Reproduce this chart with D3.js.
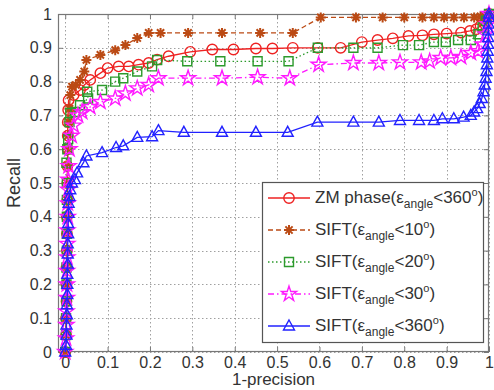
<!DOCTYPE html>
<html>
<head>
<meta charset="utf-8">
<script src="https://d3js.org/d3.v7.min.js"></script>
<style>
  body { margin: 0; background: #fff; }
  svg text { font-family: "Liberation Sans", Arial, sans-serif; fill: #333; }
</style>
</head>
<body>
<div id="chart"></div>
<script>
// recall vs 1-precision
const xTicks = [0, 0.1, 0.2, 0.3, 0.4, 0.5, 0.6, 0.7, 0.8, 0.9, 1];
const yTicks = [0, 0.1, 0.2, 0.3, 0.4, 0.5, 0.6, 0.7, 0.8, 0.9, 1];

const zmPhase = [
  [0, 0], [0.002, 0.05], [0.002, 0.1], [0.003, 0.15], [0.003, 0.2], [0.003, 0.25], [0.004, 0.3],
  [0.004, 0.35], [0.004, 0.4], [0.005, 0.45], [0.005, 0.5], [0.005, 0.55], [0.006, 0.6],
  [0.006, 0.64], [0.006, 0.68], [0.007, 0.716], [0.008, 0.745], [0.02, 0.76], [0.035, 0.775],
  [0.045, 0.79], [0.059, 0.805], [0.083, 0.825], [0.1, 0.84], [0.126, 0.845], [0.15, 0.845],
  [0.173, 0.85], [0.197, 0.855], [0.217, 0.865], [0.244, 0.875], [0.295, 0.888], [0.347, 0.895],
  [0.397, 0.895], [0.45, 0.898], [0.489, 0.898], [0.537, 0.9], [0.596, 0.9], [0.65, 0.9],
  [0.70, 0.917], [0.737, 0.923], [0.773, 0.928], [0.81, 0.935], [0.843, 0.937], [0.87, 0.94],
  [0.9, 0.942], [0.934, 0.945], [0.955, 0.95], [0.97, 0.955], [0.98, 0.965], [0.988, 0.98],
  [0.995, 0.99], [1, 1]
];

const sift10 = [
  [0, 0], [0.002, 0.05], [0.002, 0.1], [0.003, 0.15], [0.003, 0.2], [0.003, 0.25], [0.004, 0.3],
  [0.004, 0.35], [0.004, 0.4], [0.005, 0.45], [0.005, 0.5], [0.006, 0.55], [0.006, 0.6],
  [0.007, 0.64], [0.008, 0.68], [0.01, 0.72], [0.012, 0.76], [0.016, 0.785], [0.025, 0.79],
  [0.035, 0.805], [0.045, 0.83], [0.05, 0.864], [0.083, 0.879], [0.118, 0.893], [0.142, 0.908],
  [0.17, 0.929], [0.197, 0.944], [0.225, 0.944], [0.29, 0.944], [0.37, 0.944], [0.46, 0.944],
  [0.537, 0.944], [0.603, 0.99], [0.686, 0.99], [0.749, 0.99], [0.80, 0.99], [0.843, 0.99],
  [0.87, 0.99], [0.894, 0.99], [0.917, 0.99], [0.941, 0.99], [0.965, 0.99], [0.98, 0.993],
  [0.99, 0.995], [1, 1]
];

const sift20 = [
  [0, 0], [0.002, 0.05], [0.002, 0.1], [0.003, 0.15], [0.003, 0.2], [0.003, 0.25], [0.004, 0.3],
  [0.004, 0.35], [0.004, 0.4], [0.004, 0.45], [0.004, 0.5], [0.003, 0.56], [0.005, 0.6],
  [0.007, 0.63], [0.01, 0.68], [0.012, 0.707], [0.024, 0.71], [0.035, 0.73], [0.054, 0.75],
  [0.052, 0.77], [0.087, 0.775], [0.118, 0.8], [0.137, 0.81], [0.17, 0.83], [0.205, 0.845],
  [0.217, 0.864], [0.288, 0.86], [0.366, 0.86], [0.454, 0.86], [0.527, 0.86], [0.596, 0.9],
  [0.68, 0.9], [0.737, 0.9], [0.797, 0.908], [0.835, 0.908], [0.87, 0.917], [0.898, 0.917],
  [0.927, 0.923], [0.957, 0.923], [0.975, 0.94], [0.985, 0.96], [0.993, 0.98], [1, 1]
];

const sift30 = [
  [0, 0], [0.002, 0.04], [0.003, 0.08], [0.003, 0.12], [0.004, 0.16], [0.004, 0.2], [0.004, 0.24],
  [0.005, 0.28], [0.005, 0.32], [0.005, 0.36], [0.006, 0.4], [0.006, 0.44], [0.007, 0.48],
  [0.007, 0.51], [0.008, 0.55], [0.01, 0.6], [0.015, 0.64], [0.02, 0.67], [0.03, 0.7],
  [0.04, 0.71], [0.059, 0.725], [0.083, 0.74], [0.118, 0.75], [0.142, 0.765], [0.17, 0.78],
  [0.197, 0.79], [0.22, 0.81], [0.29, 0.81], [0.37, 0.81], [0.454, 0.813], [0.53, 0.81],
  [0.598, 0.85], [0.68, 0.855], [0.74, 0.855], [0.79, 0.857], [0.84, 0.857], [0.86, 0.86],
  [0.886, 0.87], [0.91, 0.87], [0.934, 0.873], [0.957, 0.885], [0.974, 0.89], [0.985, 0.91],
  [0.992, 0.94], [0.997, 0.97], [1, 1]
];

const sift360 = [
  [0, 0], [0.002, 0.02], [0.003, 0.05], [0.003, 0.08], [0.004, 0.11], [0.004, 0.14], [0.005, 0.17],
  [0.005, 0.2], [0.005, 0.23], [0.006, 0.26], [0.006, 0.29], [0.006, 0.32], [0.007, 0.35],
  [0.007, 0.38], [0.008, 0.41], [0.008, 0.44], [0.01, 0.46], [0.012, 0.48], [0.016, 0.5],
  [0.023, 0.51], [0.028, 0.53], [0.043, 0.56], [0.05, 0.58], [0.087, 0.59], [0.12, 0.605],
  [0.137, 0.61], [0.17, 0.635], [0.205, 0.637], [0.22, 0.655], [0.28, 0.65], [0.37, 0.65],
  [0.45, 0.65], [0.525, 0.65], [0.595, 0.68], [0.68, 0.68], [0.74, 0.68], [0.79, 0.685],
  [0.835, 0.685], [0.87, 0.685], [0.89, 0.69], [0.917, 0.69], [0.94, 0.695], [0.957, 0.70],
  [0.965, 0.71], [0.972, 0.72], [0.978, 0.735], [0.983, 0.75], [0.987, 0.77], [0.99, 0.79],
  [0.992, 0.81], [0.994, 0.83], [0.995, 0.85], [0.996, 0.87], [0.997, 0.89], [0.998, 0.91],
  [0.998, 0.93], [0.999, 0.95], [0.999, 0.97], [1, 0.99], [1, 1]
];

const seriesNames = ["ZM phase", "SIFT", "SIFT", "SIFT", "SIFT"];
const seriesAngles = ["360", "10", "20", "30", "360"];

////////////////////////////////////////////////////////////////////////

const width = 494, height = 390;
const box = {left: 58, right: 489, top: 14, bottom: 352};

const series = [
  {data: zmPhase, color: "#ee2222", dash: null, marker: "circle"},
  {data: sift10, color: "#bb4a14", dash: "5,3", marker: "asterisk"},
  {data: sift20, color: "#2c9a2c", dash: "1.5,2.5", marker: "square"},
  {data: sift30, color: "#ff1aff", dash: "6,3,1.5,3", marker: "star"},
  {data: sift360, color: "#2222ff", dash: null, marker: "triangle"}
];

const svg = d3.select("#chart").append("svg")
  .attr("width", width)
  .attr("height", height);

const x = d3.scaleLinear().domain([-0.017, 1]).range([box.left, box.right]);
const y = d3.scaleLinear().domain([0, 1]).range([box.bottom, box.top]);

////////////
/// Grid ///
////////////

const grid = svg.append("g")
  .attr("stroke", "#a0a0a0")
  .attr("stroke-width", 1)
  .attr("stroke-dasharray", "1.5,2.5");

grid.selectAll("line.gx").data(xTicks).enter().append("line")
  .attr("x1", d => Math.round(x(d)) + 0.5).attr("x2", d => Math.round(x(d)) + 0.5)
  .attr("y1", box.top).attr("y2", box.bottom);

grid.selectAll("line.gy").data(yTicks).enter().append("line")
  .attr("y1", d => Math.round(y(d)) + 0.5).attr("y2", d => Math.round(y(d)) + 0.5)
  .attr("x1", box.left).attr("x2", box.right);

////////////
/// Axes ///
////////////

const axisStyle = g => {
  g.select(".domain").remove();
  g.selectAll(".tick line").attr("stroke", "#777");
  g.selectAll(".tick text")
    .attr("font-size", "16px")
    .attr("fill", "#333");
};

svg.append("g")
  .attr("transform", "translate(0," + box.bottom + ")")
  .call(d3.axisBottom(x).tickValues(xTicks).tickFormat(d3.format("")).tickSizeInner(-5).tickPadding(5))
  .call(axisStyle);

svg.append("g")
  .attr("transform", "translate(0," + box.top + ")")
  .call(d3.axisTop(x).tickValues(xTicks).tickSizeInner(-5).tickFormat(""))
  .call(axisStyle);

svg.append("g")
  .attr("transform", "translate(" + box.left + ",0)")
  .call(d3.axisLeft(y).tickValues(yTicks).tickFormat(d3.format("")).tickSizeInner(-5).tickPadding(6))
  .call(axisStyle);

svg.append("g")
  .attr("transform", "translate(" + box.right + ",0)")
  .call(d3.axisRight(y).tickValues(yTicks).tickSizeInner(-5).tickFormat(""))
  .call(axisStyle);

svg.append("rect")
  .attr("x", box.left + 0.5).attr("y", box.top + 0.5)
  .attr("width", box.right - box.left - 1).attr("height", box.bottom - box.top - 1)
  .attr("fill", "none").attr("stroke", "#777").attr("stroke-width", 1.2);

//////////////
/// Labels ///
//////////////

svg.append("text")
  .attr("transform", "translate(20," + ((box.top + box.bottom) / 2) + ") rotate(-90)")
  .attr("text-anchor", "middle")
  .attr("font-size", "18px")
  .text("Recall");

svg.append("text")
  .attr("x", (box.left + box.right) / 2)
  .attr("y", 385)
  .attr("text-anchor", "middle")
  .attr("font-size", "17px")
  .text("1-precision");

///////////////
/// Markers ///
///////////////

function markerPath(type) {
  if (type === "circle") return d3.symbol(d3.symbolCircle, 85)();
  if (type === "square") return "M-4.5,-4.5H4.5V4.5H-4.5Z";
  if (type === "triangle") return "M0,-6L5.5,4L-5.5,4Z";
  if (type === "star") return d3.symbol(d3.symbolStar, 70)();
  // asterisk: plus and cross together
  return "M-5,0H5M0,-5V5M-3.6,-3.6L3.6,3.6M-3.6,3.6L3.6,-3.6";
}

//////////////
/// Curves ///
//////////////

const line = d3.line().x(d => x(d[0])).y(d => y(d[1]));

series.forEach(s => {
  const g = svg.append("g");
  g.append("path")
    .datum(s.data)
    .attr("d", line)
    .attr("fill", "none")
    .attr("stroke", s.color)
    .attr("stroke-width", 1.3)
    .attr("stroke-dasharray", s.dash);

  g.selectAll("path.m").data(s.data).enter().append("path")
    .attr("class", "m")
    .attr("transform", d => "translate(" + x(d[0]) + "," + y(d[1]) + ")")
    .attr("d", markerPath(s.marker))
    .attr("fill", "none")
    .attr("stroke", s.color)
    .attr("stroke-width", s.marker === "asterisk" ? 2 : 1.4);
});

//////////////
/// Legend ///
//////////////

const lg = svg.append("g");
lg.append("rect")
  .attr("x", 262.5).attr("y", 182.5)
  .attr("width", 221).attr("height", 160)
  .attr("fill", "#fff").attr("stroke", "#555").attr("stroke-width", 1.2);

series.forEach((s, i) => {
  const ry = 198 + i * 32;
  lg.append("line")
    .attr("x1", 268).attr("x2", 310)
    .attr("y1", ry).attr("y2", ry)
    .attr("stroke", s.color).attr("stroke-width", 1.3)
    .attr("stroke-dasharray", s.dash);
  lg.append("path")
    .attr("transform", "translate(289," + ry + ")")
    .attr("d", markerPath(s.marker))
    .attr("fill", "none")
    .attr("stroke", s.color)
    .attr("stroke-width", s.marker === "asterisk" ? 2 : 1.4);

  const t = lg.append("text")
    .attr("x", 315).attr("y", ry + 5)
    .attr("font-size", "17px");
  t.append("tspan").text(seriesNames[i] + "(\u03b5");
  t.append("tspan").attr("font-size", "12px").attr("dy", 5).text("angle");
  t.append("tspan").attr("dy", -5).text("<" + seriesAngles[i]);
  t.append("tspan").attr("font-size", "11px").attr("dy", -7).text("o");
  t.append("tspan").attr("dy", 7).text(")");
});
</script>
</body>
</html>
